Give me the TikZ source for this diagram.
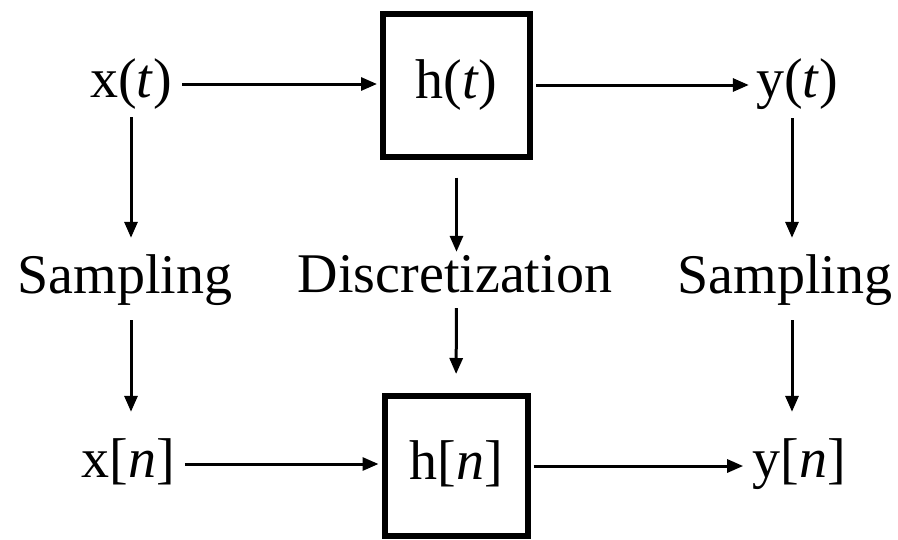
\documentclass[tikz,border=0pt]{standalone}
\usepackage{fontspec}
\setmainfont{Liberation Serif}
\usetikzlibrary{arrows.meta}

\tikzset{
	lbl/.style = {inner sep=0pt, text height=38pt, text depth=12pt, anchor=base, font=\fontsize{56}{60}\selectfont},
	sysbox/.style = {draw, line width=6pt, inner sep=0pt, font=\fontsize{56}{60}\selectfont, text height=38pt, text depth=12pt},
	arr/.style = {line width=3pt, -{Triangle[length=16pt, width=13pt]}}
}

\begin{document}
\begin{tikzpicture}[x=1pt, y=1pt]
				\useasboundingbox (0,0) rectangle (898,-539);
				
				% systems
				\node[sysbox, minimum width=147pt, minimum height=143pt] (ht) at (456.5,-85) {h(\textit{t})};
				\node[sysbox, minimum width=143pt, minimum height=140pt] (hn) at (456,-466) {h[\textit{n}]};
				
				% signals
				\node[lbl] (xt) at (131,-97) {x(\textit{t})};
				\node[lbl] (yt) at (797,-97) {y(\textit{t})};
				\node[lbl] (xn) at (128,-477) {x[\textit{n}]};
				\node[lbl] (yn) at (799,-477) {y[\textit{n}]};
				
				% operations
				\node[lbl] (sl) at (125,-293) {Sampling};
				\node[lbl] (dc) at (455,-292) {Discretization};
				\node[lbl] (sr) at (785,-293) {Sampling};
				
				% column of the right arrows
				\coordinate (rc) at (792,0);
				
				% horizontal arrows
				\draw[arr, shorten <=10pt, shorten >=3pt] (xt.east) -- (xt.east -| ht.west);
				\draw[arr, shorten <=3pt, shorten >=7pt] (ht.east) -- (ht.east -| yt.west);
				\draw[arr, shorten <=10pt, shorten >=3pt] (xn.east) -- (xn.east -| hn.west);
				\draw[arr, shorten <=3pt, shorten >=9pt] (hn.east) -- (hn.east -| yn.west);
				
				% vertical arrows
				\draw[arr, shorten <=8pt, shorten >=17pt] (xt.south) -- (sl.north -| xt.south);
				\draw[arr, shorten <=15pt, shorten >=27pt] (sl.south -| xt.south) -- (xn.north -| xt.south);
				\draw[arr, shorten <=18pt, shorten >=2pt] (ht.south) -- (dc.north -| ht.south);
				\draw[arr, shorten <=4pt, shorten >=19pt] (dc.south -| ht.south) -- (hn.north);
				\draw[arr, shorten <=9pt, shorten >=17pt] (yt.south -| rc) -- (sr.north -| rc);
				\draw[arr, shorten <=15pt, shorten >=27pt] (sr.south -| rc) -- (yn.north -| rc);
				
\end{tikzpicture}
\end{document}
